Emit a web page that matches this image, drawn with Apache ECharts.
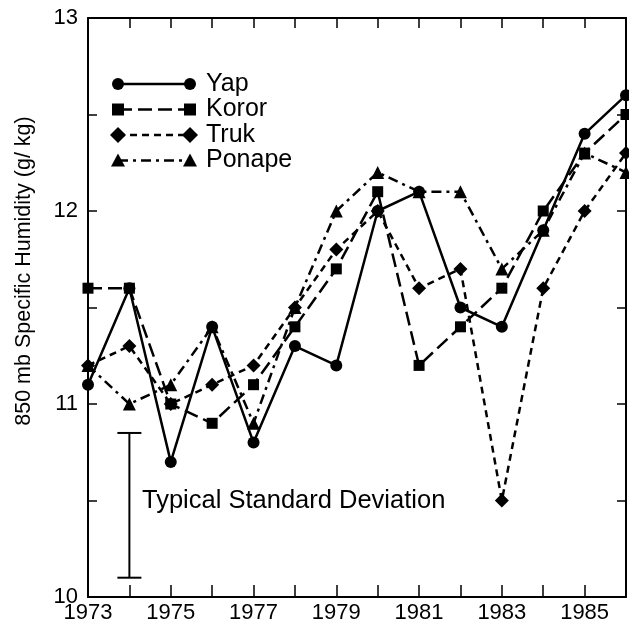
<!DOCTYPE html>
<html>
<head>
<meta charset="utf-8">
<script src="https://cdn.jsdelivr.net/npm/echarts/dist/echarts.min.js"></script>
<style>
html, body { margin: 0; padding: 0; background: #fff; }
#main { width: 629px; height: 636px; }
</style>
</head>
<body>
<div id="main"></div>
<script>
// station humidity series (850 mb, g/kg)
var years  = [1973, 1974, 1975, 1976, 1977, 1978, 1979, 1980, 1981, 1982, 1983, 1984, 1985, 1986];
var yap    = [11.1, 11.6, 10.7, 11.4, 10.8, 11.3, 11.2, 12.0, 12.1, 11.5, 11.4, 11.9, 12.4, 12.6];
var koror  = [11.6, 11.6, 11.0, 10.9, 11.1, 11.4, 11.7, 12.1, 11.2, 11.4, 11.6, 12.0, 12.3, 12.5];
var truk   = [11.2, 11.3, 11.0, 11.1, 11.2, 11.5, 11.8, 12.0, 11.6, 11.7, 10.5, 11.6, 12.0, 12.3];
var ponape = [11.2, 11.0, 11.1, 11.4, 10.9, 11.5, 12.0, 12.2, 12.1, 12.1, 11.7, 11.9, 12.3, 12.2];

var names   = ['Yap', 'Koror', 'Truk', 'Ponape'];
var symbols = ['circle', 'rect', 'diamond', 'triangle'];

// typical standard deviation bar
var sdYear = [1974];
var sdLow  = [10.1];
var sdHigh = [10.85];

var FONT = '"Liberation Sans", Arial, sans-serif';
var dashes = ['solid', [14, 6], [7, 5], [10, 5, 3, 5]];
var sizes = [12, 11, 14, 13];

var chart = echarts.init(document.getElementById('main'));

function pairs(vals) {
    return years.map(function (y, i) { return [y, vals[i]]; });
}

var allVals = [yap, koror, truk, ponape];
var series = names.map(function (n, i) {
    return {
        name: n,
        type: 'line',
        data: pairs(allVals[i]),
        symbol: symbols[i],
        symbolSize: sizes[i],
        itemStyle: { color: '#000' },
        lineStyle: { color: '#000', width: 2.5, type: dashes[i] },
        z: 5 - i
    };
});

series.push({
    name: 'sd',
    type: 'custom',
    data: sdYear.map(function (y, i) { return [y, sdLow[i], sdHigh[i]]; }),
    renderItem: function (params, api) {
        var lo = api.coord([api.value(0), api.value(1)]);
        var hi = api.coord([api.value(0), api.value(2)]);
        var st = { stroke: '#000', lineWidth: 2 };
        return {
            type: 'group',
            children: [
                { type: 'line', shape: { x1: lo[0], y1: lo[1], x2: hi[0], y2: hi[1] }, style: st },
                { type: 'line', shape: { x1: lo[0] - 12, y1: lo[1], x2: lo[0] + 12, y2: lo[1] }, style: st },
                { type: 'line', shape: { x1: hi[0] - 12, y1: hi[1], x2: hi[0] + 12, y2: hi[1] }, style: st }
            ]
        };
    }
});

// hand-drawn legend: symbol at both ends of the line sample
function shape(sym, cx, cy) {
    var fill = { fill: '#000' };
    if (sym === 'circle') return { type: 'circle', shape: { cx: cx, cy: cy, r: 6 }, style: fill };
    if (sym === 'rect') return { type: 'rect', shape: { x: cx - 6, y: cy - 6, width: 12, height: 12 }, style: fill };
    if (sym === 'diamond') return { type: 'polygon', shape: { points: [[cx, cy - 8], [cx + 8, cy], [cx, cy + 8], [cx - 8, cy]] }, style: fill };
    return { type: 'polygon', shape: { points: [[cx, cy - 7], [cx + 7, cy + 6], [cx - 7, cy + 6]] }, style: fill };
}

var graphics = [];
names.forEach(function (n, i) {
    var y = 84 + i * 25.5;
    graphics.push({
        type: 'line',
        shape: { x1: 118, y1: y, x2: 190, y2: y },
        style: { stroke: '#000', lineWidth: 2.5, lineDash: dashes[i] === 'solid' ? null : dashes[i] }
    });
    graphics.push(shape(symbols[i], 118, y));
    graphics.push(shape(symbols[i], 190, y));
    graphics.push({
        type: 'text', x: 206, y: y,
        style: { text: n, fontSize: 25, fontFamily: FONT, fill: '#000', verticalAlign: 'middle' }
    });
});
graphics.push({
    type: 'text', x: 142, y: 501,
    style: { text: 'Typical Standard Deviation', fontSize: 25.5, fontFamily: FONT, fill: '#000', verticalAlign: 'middle' }
});
graphics.push({
    type: 'text', x: 24, y: 271, rotation: Math.PI / 2,
    style: { text: '850 mb Specific Humidity (g/ kg)', fontSize: 21.5, fontFamily: FONT, fill: '#000', align: 'center', verticalAlign: 'middle' }
});

var axisLine = { lineStyle: { color: '#000', width: 2 } };

var option = {
    animation: false,
    backgroundColor: '#fff',
    grid: { left: 88, right: 3, top: 18, bottom: 39 },
    xAxis: [{
        type: 'value', min: 1973, max: 1986, interval: 1, position: 'bottom',
        axisLine: axisLine,
        axisTick: { inside: true, length: 12, lineStyle: { color: '#000', width: 1.5 } },
        axisLabel: {
            margin: 5, fontSize: 22, fontFamily: FONT, color: '#000',
            formatter: function (v) { return v % 2 === 1 ? String(v) : ''; }
        },
        splitLine: { show: false }
    }, {
        type: 'value', min: 1973, max: 1986, interval: 1, position: 'top',
        axisLine: axisLine,
        axisTick: { inside: true, length: 10, lineStyle: { color: '#000', width: 1.5 } },
        axisLabel: { show: false },
        splitLine: { show: false }
    }],
    yAxis: [{
        type: 'value', min: 10, max: 13, interval: 0.5, position: 'left',
        axisLine: axisLine,
        axisTick: { inside: true, length: 9, lineStyle: { color: '#000', width: 1.5 } },
        axisLabel: {
            margin: 10, fontSize: 22, fontFamily: FONT, color: '#000',
            formatter: function (v) { return v % 1 === 0 ? String(v) : ''; }
        },
        splitLine: { show: false }
    }, {
        type: 'value', min: 10, max: 13, interval: 0.5, position: 'right',
        axisLine: axisLine,
        axisTick: { inside: true, length: 9, lineStyle: { color: '#000', width: 1.5 } },
        axisLabel: { show: false },
        splitLine: { show: false }
    }],
    graphic: graphics,
    series: series
};

chart.setOption(option);
</script>
</body>
</html>
